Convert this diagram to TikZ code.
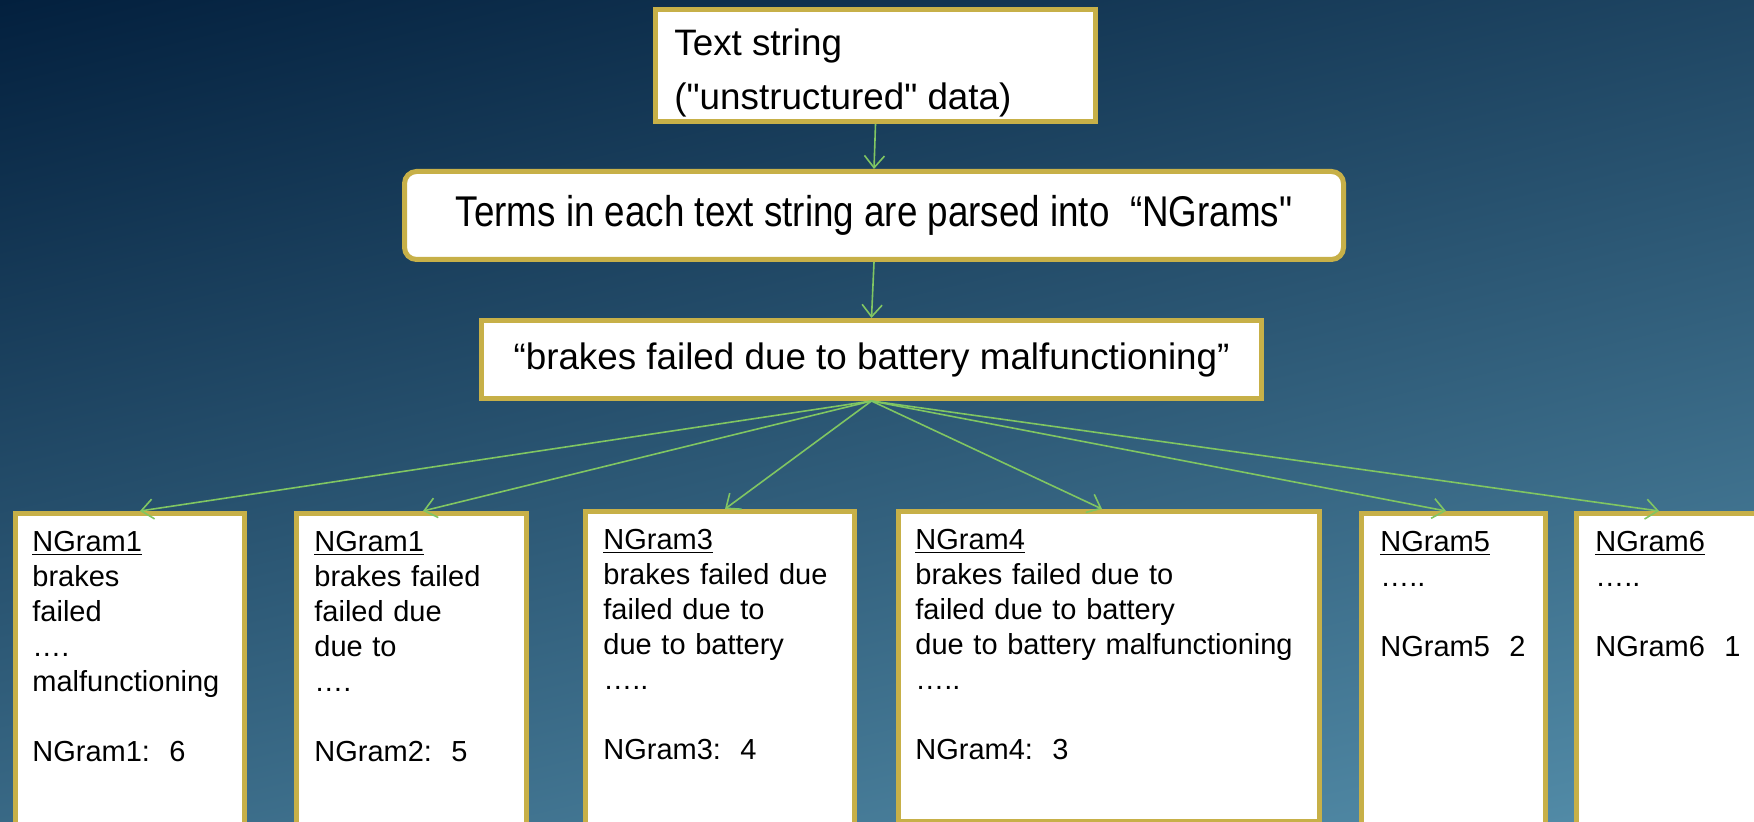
\documentclass[tikz,border=0pt]{standalone}
\usepackage{fontspec}
\setmainfont{Liberation Sans}[Ligatures=TeXOff]
\newfontfamily\narrowsans{Liberation Sans}[Ligatures=TeXOff, FakeStretch=0.855]
\usetikzlibrary{arrows.meta}

\definecolor{bgtop}{RGB}{3,32,62}
\definecolor{bgbottom}{RGB}{84,142,170}
\definecolor{gold}{RGB}{199,176,72}
\definecolor{linkgreen}{RGB}{128,198,98}

% underline with a slightly heavier rule
\newcommand{\gramtitle}[1]{\setbox0\hbox{#1}\rlap{\rule[-1.9pt]{\wd0}{0.9pt}}\box0}

\tikzset{
  box/.style={draw=gold, line width=2.5pt, fill=white, inner sep=0pt},
  bigtext/.style={font=\fontsize{18.4pt}{27pt}\selectfont},
  narrowtext/.style={font=\narrowsans\fontsize{21.5pt}{27pt}\selectfont},
  gramtext/.style={font=\fontsize{14.5pt}{17.5pt}\selectfont, align=left,
    text width=215pt, inner sep=0pt, anchor=north west},
  link/.style={draw=linkgreen, line width=0.8pt,
    -{Straight Barb[length=6pt,width=10pt]}},
}

\begin{document}
\begin{tikzpicture}[x=0.5pt,y=-0.5pt]
\useasboundingbox (0,0) rectangle (1754,822);
\begin{scope}
\clip (0,0) rectangle (1754,822);

% diagonal background gradient
\begin{scope}[transform canvas={rotate around={13.4:(877,411)}}]
  \shade[top color=bgtop, bottom color=bgbottom] (-423,-192) rectangle (2177,1014);
\end{scope}

% source text
\node[box, minimum width=220pt, minimum height=56pt] (src) at (875.5,65.5) {};
\node[bigtext, align=left, inner sep=0pt, anchor=north west] (srctext) at (674,28)
  {Text string\\("unstructured" data)};

% parsing step
\node[box, rounded corners=6pt, minimum width=469.5pt, minimum height=44pt, narrowtext]
  (parse) at (874,215.5) {Terms in each text string are parsed into~~“NGrams"};

% example phrase
\node[box, minimum width=390pt, minimum height=39pt, bigtext]
  (phrase) at (871.5,359.5) {“brakes failed due to battery malfunctioning”};

% n-gram boxes
\node[box, minimum width=114.5pt, minimum height=164.5pt] (g1) at (130,678) {};
\node[gramtext] (g1text) at (32,531)
  {\gramtitle{NGram1}\\brakes\\failed\\….\\malfunctioning\\[17.5pt]NGram1:~~6};

\node[box, minimum width=115pt, minimum height=164.5pt] (g2) at (411.5,678) {};
\node[gramtext] (g2text) at (314,531)
  {\gramtitle{NGram1}\\brakes failed\\failed due\\due to\\….\\[17.5pt]NGram2:~~5};

\node[box, minimum width=134.5pt, minimum height=165.5pt] (g3) at (720,677) {};
\node[gramtext] (g3text) at (603,529)
  {\gramtitle{NGram3}\\brakes failed due\\failed due to\\due to battery\\…..\\[17.5pt]NGram3:~~4};

\node[box, minimum width=210.5pt, minimum height=155pt] (g4) at (1109,666.5) {};
\node[gramtext] (g4text) at (915,529)
  {\gramtitle{NGram4}\\brakes failed due to\\failed due to battery\\due to battery malfunctioning\\…..\\[17.5pt]NGram4:~~3};

\node[box, minimum width=92pt, minimum height=164.5pt] (g5) at (1453.5,678) {};
\node[gramtext] (g5text) at (1380,531)
  {\gramtitle{NGram5}\\…..\\[17.5pt]NGram5~~2};

\node[box, minimum width=92pt, minimum height=164.5pt] (g6) at (1668.5,678) {};
\node[gramtext] (g6text) at (1595,531)
  {\gramtitle{NGram6}\\…..\\[17.5pt]NGram6~~1};

% connectors
\draw[link] (src.south) -- (parse.north);
\draw[link] (parse.south) -- (phrase.north);
\draw[link] (phrase.south) -- ([xshift=63.5pt]g1.north west);
\draw[link] (phrase.south) -- ([xshift=64.5pt]g2.north west);
\draw[link] (phrase.south) -- ([xshift=71pt]g3.north west);
\draw[link] (phrase.south) -- ([xshift=103pt]g4.north west);
\draw[link] (phrase.south) -- ([xshift=43.5pt]g5.north west);
\draw[link] (phrase.south) -- ([xshift=42.5pt]g6.north west);
\end{scope}
\end{tikzpicture}
\end{document}
